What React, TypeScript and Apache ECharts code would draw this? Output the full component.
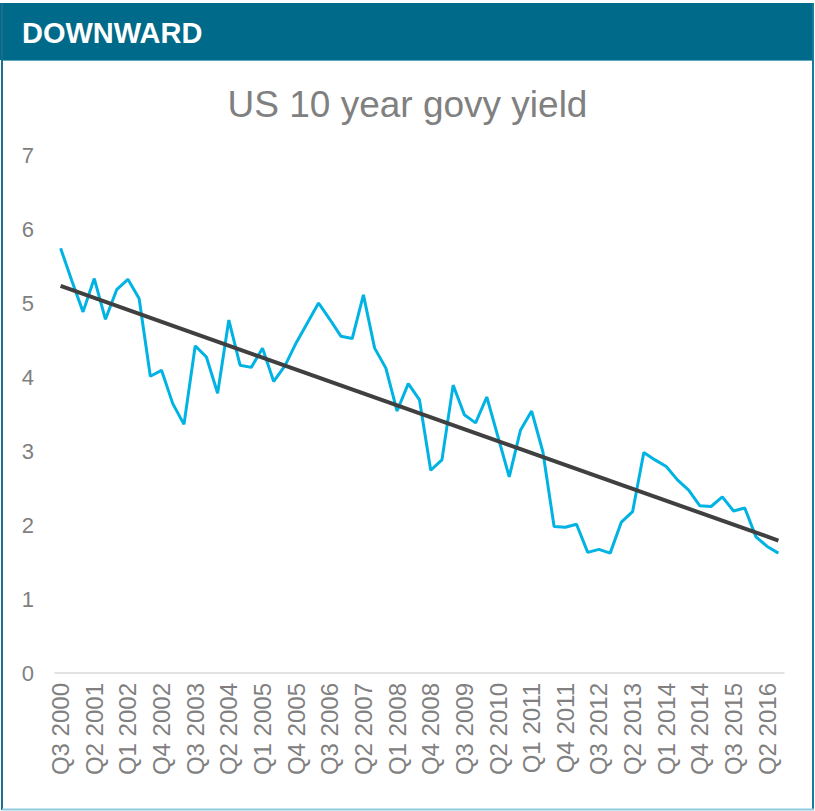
import React, { useEffect, useRef } from "react";
import * as echarts from "echarts";

const quarters: string[] = [
  "Q3 2000", "Q4 2000",
  "Q1 2001", "Q2 2001", "Q3 2001", "Q4 2001",
  "Q1 2002", "Q2 2002", "Q3 2002", "Q4 2002",
  "Q1 2003", "Q2 2003", "Q3 2003", "Q4 2003",
  "Q1 2004", "Q2 2004", "Q3 2004", "Q4 2004",
  "Q1 2005", "Q2 2005", "Q3 2005", "Q4 2005",
  "Q1 2006", "Q2 2006", "Q3 2006", "Q4 2006",
  "Q1 2007", "Q2 2007", "Q3 2007", "Q4 2007",
  "Q1 2008", "Q2 2008", "Q3 2008", "Q4 2008",
  "Q1 2009", "Q2 2009", "Q3 2009", "Q4 2009",
  "Q1 2010", "Q2 2010", "Q3 2010", "Q4 2010",
  "Q1 2011", "Q2 2011", "Q3 2011", "Q4 2011",
  "Q1 2012", "Q2 2012", "Q3 2012", "Q4 2012",
  "Q1 2013", "Q2 2013", "Q3 2013", "Q4 2013",
  "Q1 2014", "Q2 2014", "Q3 2014", "Q4 2014",
  "Q1 2015", "Q2 2015", "Q3 2015", "Q4 2015",
  "Q1 2016", "Q2 2016", "Q3 2016",
];

const yields: number[] = [
  5.74, 5.30, 4.88, 5.33, 4.78, 5.18, 5.32, 5.06, 4.01, 4.09,
  3.64, 3.36, 4.42, 4.27, 3.78, 4.77, 4.16, 4.13, 4.39, 3.94,
  4.15, 4.46, 4.73, 5.00, 4.78, 4.55, 4.52, 5.11, 4.39, 4.12,
  3.54, 3.91, 3.69, 2.74, 2.88, 3.89, 3.49, 3.38, 3.73, 3.19,
  2.65, 3.28, 3.54, 2.99, 1.98, 1.97, 2.01, 1.63, 1.67, 1.62,
  2.04, 2.18, 2.98, 2.88, 2.79, 2.61, 2.47, 2.26, 2.25, 2.38,
  2.19, 2.23, 1.84, 1.71, 1.62,
];

// Linear trend line endpoints (first and last quarter)
const trendStart = 5.23;
const trendEnd = 1.79;

const yTicks = { min: 0, max: 7, interval: 1 };

export default function App() {
  const ref = useRef<HTMLDivElement>(null);

  useEffect(() => {
    if (!ref.current) return;
    const chart = echarts.init(ref.current, undefined, { renderer: "svg" });
    const trendData = quarters.map((_, i) =>
      i === 0 ? trendStart : i === quarters.length - 1 ? trendEnd : null
    );
    const font = "'Liberation Sans', Arial, sans-serif";
    chart.setOption({
      animation: false,
      backgroundColor: "#ffffff",
      graphic: [
        { type: "rect", shape: { x: 0, y: 3, width: 814, height: 57 }, style: { fill: "#006a8a" }, z: 10 },
        { type: "line", shape: { x1: 3, y1: 60.5, x2: 812, y2: 60.5 }, style: { stroke: "#5fa9c2", lineWidth: 1 }, z: 11 },
        { type: "line", shape: { x1: 2, y1: 3, x2: 2, y2: 810 }, style: { stroke: "#1a6f8f", lineWidth: 2 }, z: 11 },
        { type: "line", shape: { x1: 813, y1: 3, x2: 813, y2: 810 }, style: { stroke: "#1a7a9a", lineWidth: 2 }, z: 11 },
        { type: "line", shape: { x1: 2, y1: 809.5, x2: 814, y2: 809.5 }, style: { stroke: "#8fcbdf", lineWidth: 2 }, z: 11 },
        {
          type: "text",
          x: 22,
          y: 33,
          style: {
            text: "DOWNWARD",
            fill: "#ffffff",
            font: `bold 29px ${font}`,
            textVerticalAlign: "middle",
          },
          z: 12,
        },
      ],
      title: {
        text: "US 10 year govy yield",
        left: "center",
        top: 81,
        textStyle: { color: "#808080", fontSize: 37, fontWeight: "normal", fontFamily: font },
      },
      grid: { left: 55, right: 31, top: 155, bottom: 138, containLabel: false },
      xAxis: {
        type: "category",
        data: quarters,
        boundaryGap: true,
        axisLine: { show: true, lineStyle: { color: "#d9d9d9", width: 1.5 } },
        axisTick: { show: false },
        axisLabel: {
          interval: 2,
          rotate: 90,
          margin: 10,
          color: "#808080",
          fontSize: 24,
          fontFamily: font,
        },
        splitLine: { show: false },
      },
      yAxis: {
        type: "value",
        min: yTicks.min,
        max: yTicks.max,
        interval: yTicks.interval,
        axisLine: { show: false },
        axisTick: { show: false },
        splitLine: { show: false },
        axisLabel: { color: "#808080", fontSize: 22, margin: 21, fontFamily: font },
      },
      series: [
        {
          name: "US 10 year govy yield",
          type: "line",
          data: yields,
          showSymbol: false,
          symbol: "none",
          lineStyle: { color: "#00b3e3", width: 3 },
          z: 2,
        },
        {
          name: "Trend",
          type: "line",
          data: trendData,
          connectNulls: true,
          showSymbol: false,
          symbol: "none",
          lineStyle: { color: "#404040", width: 4 },
          z: 3,
        },
      ],
    });
    return () => chart.dispose();
  }, []);

  return (
    <div
      ref={ref}
      style={{ position: "fixed", left: 0, top: 0, width: 815, height: 811, background: "#fff" }}
    />
  );
}
